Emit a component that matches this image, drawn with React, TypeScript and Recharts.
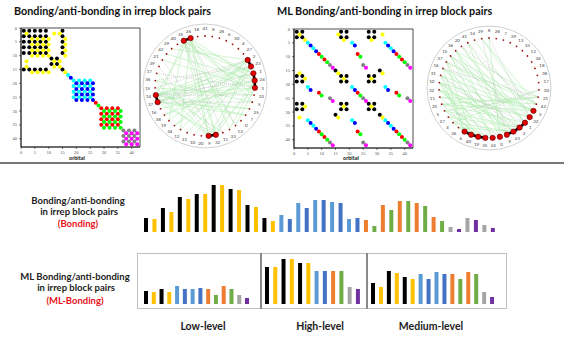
import React from 'react';
import {
  ScatterChart,
  Scatter,
  BarChart,
  Bar,
  Cell,
  XAxis,
  YAxis,
  ReferenceArea,
  ReferenceDot,
  ReferenceLine,
} from 'recharts';

// ---- palette (Excel-like) ----
const PALETTE: Record<string, string> = {
  k: '#000000',
  y: '#FFC000',
  lb: '#5B9BD5',
  b: '#4472C4',
  o: '#ED7D31',
  g: '#70AD47',
  gr: '#A5A5A5',
  p: '#7030A0',
};

// ---- matrix plots: orbitals grouped per colour; every pair inside a group is a dot ----
const axisTicks = [0, 5, 10, 15, 20, 25, 30, 35, 40];

const bondingMatrix = [
  { color: '#000000', groups: [[1, 3, 5, 7, 9, 15], [11, 13]] },
  { color: '#FFFF00', groups: [[4, 6, 8, 10, 16], [2, 12, 14]] },
  { color: '#00FFFF', groups: [[17], [19, 21, 23, 25]] },
  { color: '#0000FF', groups: [[18], [20, 22, 24, 26]] },
  { color: '#FF0000', groups: [[27], [29, 31, 33, 35]] },
  { color: '#00FF00', groups: [[28], [30, 32, 34, 36]] },
  { color: '#808080', groups: [[37, 39, 41]] },
  { color: '#FF00FF', groups: [[38, 40, 42]] },
];

const mlMatrix = [
  { color: '#000000', groups: [[1, 3, 17, 19, 27, 29], [15, 31]] },
  { color: '#FFFF00', groups: [[2, 16, 32], [4, 18, 28]] },
  { color: '#00FFFF', groups: [[5, 21, 33], [7, 35]] },
  { color: '#0000FF', groups: [[6, 22, 34], [8, 36]] },
  { color: '#FF0000', groups: [[9, 23, 37], [11, 39]] },
  { color: '#00FF00', groups: [[10, 24, 38], [12, 40]] },
  { color: '#808080', groups: [[13, 25, 41]] },
  { color: '#FF00FF', groups: [[14, 26, 42]] },
];

// ---- circular graphs: node order clockwise from the top ----
const bondOrder = [41, 8, 28, 6, 30, 4, 27, 2, 23, 1, 24, 3, 22, 5, 25, 7, 0, 13, 33, 11, 32, 9, 20, 10, 31, 12, 34, 19, 38, 16, 37, 14, 15, 36, 17, 39, 21, 42, 29, 40, 35, 26, 18];
const bondHubs = [35, 26, 2, 23, 1, 24, 3, 37, 14, 32, 9];
const bondLinks = [[35, 26], [2, 23], [1, 24], [24, 3], [37, 14], [32, 9]];
const bondChords = [[2, 37], [2, 14], [23, 37], [23, 14], [1, 14], [24, 37], [3, 14], [3, 16], [24, 38], [2, 19], [35, 32], [35, 9], [26, 9], [26, 32], [35, 3], [26, 24], [35, 1], [32, 2], [9, 23], [32, 24], [9, 3], [37, 32], [14, 9], [37, 35], [14, 26], [2, 12], [23, 10], [1, 34], [3, 21], [24, 42], [35, 22], [26, 5], [9, 36], [32, 17], [37, 7], [14, 25], [2, 29], [1, 40], [3, 13], [24, 33], [23, 31], [22, 15], [5, 36], [25, 37], [7, 14], [13, 35], [33, 26], [11, 15], [12, 26], [34, 2], [19, 35], [38, 23]];
const bondDotted = [[2, 15], [23, 36], [1, 37], [24, 14], [3, 17], [35, 11], [26, 13], [9, 39], [32, 21], [22, 14], [5, 37]];

const mlOrder = [8, 28, 7, 39, 13, 33, 12, 34, 18, 38, 17, 30, 21, 42, 3, 22, 1, 2, 23, 9, 0, 24, 35, 19, 40, 6, 26, 4, 27, 5, 25, 11, 32, 10, 31, 16, 37, 15, 36, 20, 41, 14, 29];
const mlHubs = [3, 22, 1, 2, 23, 9, 0, 24, 35, 19, 40, 6];
const mlLinks = [[1, 2], [2, 23], [23, 9], [35, 19], [19, 40], [40, 6]];
const mlChords = [[3, 16], [3, 31], [3, 10], [3, 37], [22, 32], [22, 11], [22, 15], [1, 25], [1, 36], [1, 20], [2, 5], [2, 27], [2, 16], [23, 4], [23, 26], [23, 31], [9, 10], [9, 15], [9, 41], [0, 8], [0, 36], [24, 37], [24, 32], [35, 11], [35, 5], [19, 25], [19, 27], [40, 4], [40, 10], [6, 26], [6, 31], [42, 15], [42, 37], [21, 5], [21, 25], [3, 29], [22, 14], [1, 41], [2, 20], [23, 36], [9, 16], [0, 32], [24, 15], [35, 31], [19, 10], [40, 37], [6, 16], [42, 11], [42, 29], [21, 36], [30, 4], [3, 25], [2, 32], [23, 10]];
const mlDotted = [[3, 41], [22, 8], [1, 15], [30, 27], [42, 20], [21, 16], [23, 37], [9, 29], [2, 31], [1, 10], [0, 25]];

// ---- bar rows ----
const bondingValues = [14, 13, 24, 20, 35, 33, 38, 38, 47, 47, 43, 42, 27, 25, 14, 11, 17, 13, 29, 24, 32, 32, 30, 29, 13, 14, 12, 6, 27, 22, 31, 31, 29, 26, 15, 11, 5, 3, 14, 12, 7, 4];
const bondingColors = ['k', 'y', 'k', 'y', 'k', 'y', 'k', 'y', 'k', 'y', 'k', 'y', 'k', 'y', 'k', 'y', 'lb', 'b', 'lb', 'b', 'lb', 'b', 'lb', 'b', 'lb', 'b', 'o', 'g', 'o', 'g', 'o', 'g', 'o', 'g', 'o', 'g', 'gr', 'p', 'gr', 'p', 'gr', 'p'];

const lowValues = [13, 12, 15, 12, 18, 15, 15, 16, 15, 9, 18, 15, 9, 6];
const lowColors = ['k', 'y', 'k', 'y', 'lb', 'b', 'lb', 'b', 'o', 'g', 'o', 'g', 'gr', 'p'];
const highValues = [37, 37, 45, 45, 41, 41, 33, 33, 33, 33, 17, 15];
const highColors = ['k', 'y', 'k', 'y', 'k', 'y', 'lb', 'b', 'o', 'g', 'gr', 'p'];
const mediumValues = [21, 17, 33, 31, 27, 25, 30, 25, 32, 30, 30, 25, 32, 30, 12, 7];
const mediumColors = ['k', 'y', 'k', 'y', 'k', 'y', 'lb', 'b', 'lb', 'b', 'o', 'g', 'o', 'g', 'gr', 'p'];

const FONT = 'Lato, "Open Sans", sans-serif';

function pairs(groups: number[][]) {
  const out: { x: number; y: number }[] = [];
  groups.forEach(g => g.forEach(a => g.forEach(b => out.push({ x: a, y: b }))));
  return out;
}

function Matrix({ left, top, series }: { left: number; top: number; series: { color: string; groups: number[][] }[] }) {
  const tickStyle = { fontSize: 4.5, fill: '#555' };
  return (
    <div style={{ position: 'absolute', left, top }}>
      <ScatterChart width={136} height={130} margin={{ top: 1, right: 1, bottom: 0, left: 0 }}>
        <XAxis type="number" dataKey="x" domain={[0, 43]} ticks={axisTicks} interval={0} height={10} tickSize={2}
          tick={tickStyle} axisLine={{ stroke: '#000', strokeWidth: 0.7 }} tickLine={{ stroke: '#000', strokeWidth: 0.5 }} allowDataOverflow />
        <YAxis type="number" dataKey="y" domain={[0, 43]} reversed ticks={axisTicks} interval={0} width={16} tickSize={2}
          tick={tickStyle} axisLine={{ stroke: '#000', strokeWidth: 0.7 }} tickLine={{ stroke: '#000', strokeWidth: 0.5 }} allowDataOverflow />
        <ReferenceArea x1={0} x2={43} y1={0} y2={43} fill="none" stroke="#000" strokeWidth={0.7} />
        {series.map(s => (
          <Scatter key={s.color} data={pairs(s.groups)} fill={s.color} isAnimationActive={false}
            shape={(p: any) => <circle cx={p.cx} cy={p.cy} r={2} fill={s.color} />} />
        ))}
      </ScatterChart>
    </div>
  );
}

function ChordCircle({ left, top, order, hubs, links, chords, dotted }: {
  left: number; top: number; order: number[]; hubs: number[]; links: number[][]; chords: number[][]; dotted: number[][];
}) {
  const pos = (label: number, r: number) => {
    const a = (2 * Math.PI * order.indexOf(label)) / order.length;
    return { x: r * Math.sin(a), y: r * Math.cos(a), label };
  };
  const small = order.filter(n => !hubs.includes(n)).map(n => pos(n, 1));
  const big = hubs.map(n => pos(n, 1));
  const labels = order.map(n => pos(n, 1.15));
  return (
    <div style={{ position: 'absolute', left, top }}>
      <ScatterChart width={140} height={140} margin={{ top: 0, right: 0, bottom: 0, left: 0 }}>
        <XAxis type="number" dataKey="x" domain={[-1.4, 1.4]} hide />
        <YAxis type="number" dataKey="y" domain={[-1.4, 1.4]} hide />
        <ReferenceDot x={0} y={0} r={62} fill="none" stroke="#c4c4c4" strokeWidth={0.8} />
        {chords.map(([a, b], k) => (
          <ReferenceLine key={'c' + k} segment={[pos(a, 1), pos(b, 1)]} stroke="#a6e8a6" strokeWidth={0.5} ifOverflow="visible" />
        ))}
        {dotted.map(([a, b], k) => (
          <ReferenceLine key={'d' + k} segment={[pos(a, 1), pos(b, 1)]} stroke="#aaa" strokeWidth={0.5} strokeDasharray="1 1" ifOverflow="visible" />
        ))}
        {links.map(([a, b], k) => (
          <ReferenceLine key={'l' + k} segment={[pos(a, 1), pos(b, 1)]} stroke="#000" strokeWidth={2.6} ifOverflow="visible" />
        ))}
        <Scatter data={small} isAnimationActive={false}
          shape={(p: any) => <circle cx={p.cx} cy={p.cy} r={0.9} fill="#a01010" />} />
        <Scatter data={big} isAnimationActive={false}
          shape={(p: any) => <circle cx={p.cx} cy={p.cy} r={2.7} fill="#e00000" stroke="#500" strokeWidth={0.6} />} />
        <Scatter data={labels} isAnimationActive={false}
          shape={(p: any) => (
            <text x={p.cx} y={p.cy} dy="0.35em" textAnchor="middle" fontSize={4.5} fill="#444" fontFamily={FONT}>
              {p.payload.label}
            </text>
          )} />
      </ScatterChart>
    </div>
  );
}

function BarRow({ left, top, width, values, colors }: { left: number; top: number; width: number; values: number[]; colors: string[] }) {
  const data = values.map((v, i) => ({ i, v }));
  return (
    <div style={{ position: 'absolute', left, top }}>
      <BarChart width={width} height={50} data={data} margin={{ top: 0, right: 0, bottom: 0, left: 0 }}>
        <XAxis dataKey="i" hide />
        <YAxis domain={[0, 50]} hide />
        <Bar dataKey="v" barSize={4} isAnimationActive={false}>
          {data.map((d, i) => <Cell key={i} fill={PALETTE[colors[i]]} />)}
        </Bar>
      </BarChart>
    </div>
  );
}

const text = (left: number, top: number, s: string, size: number, extra: React.CSSProperties = {}) => (
  <div style={{ position: 'absolute', left, top, fontFamily: FONT, fontSize: size, fontWeight: 700, whiteSpace: 'nowrap', lineHeight: 1, color: '#111', ...extra }}>
    {s}
  </div>
);

const centered = (cx: number, top: number, s: string, size: number, color = '#222') => (
  <div style={{ position: 'absolute', left: cx - 100, width: 200, top, textAlign: 'center', fontFamily: FONT, fontSize: size, fontWeight: 700, lineHeight: 1, color }}>
    {s}
  </div>
);

export default function App() {
  return (
    <div style={{ position: 'relative', width: 564, height: 345, background: '#fff', overflow: 'hidden' }}>
      <style>{'body{margin:0}'}</style>
      {text(14, 6, 'Bonding/anti-bonding in irrep block pairs', 10.8)}
      {text(277, 6, 'ML Bonding/anti-bonding in irrep block pairs', 10.8)}

      <Matrix left={4.7} top={27} series={bondingMatrix} />
      <Matrix left={278} top={28} series={mlMatrix} />
      {centered(77, 156, 'orbital', 5.5, '#111')}
      {centered(351, 156, 'orbital', 5.5, '#111')}

      <ChordCircle left={135} top={16} order={bondOrder} hubs={bondHubs} links={bondLinks} chords={bondChords} dotted={bondDotted} />
      <ChordCircle left={419} top={18} order={mlOrder} hubs={mlHubs} links={mlLinks} chords={mlChords} dotted={mlDotted} />

      <div style={{ position: 'absolute', left: 0, top: 162, width: 564, height: 2, background: '#777' }} />

      {centered(78, 196, 'Bonding/anti-bonding', 9.5)}
      {centered(79, 207, 'in irrep block pairs', 9.5)}
      {centered(78, 219, '(Bonding)', 9.5, '#e8141c')}

      {centered(75, 272, 'ML Bonding/anti-bonding', 9.5)}
      {centered(76, 283, 'in irrep block pairs', 9.5)}
      {centered(75, 296, '(ML-Bonding)', 9.5, '#e8141c')}

      <BarRow left={141.8} top={182} width={355.3} values={bondingValues} colors={bondingColors} />

      <div style={{ position: 'absolute', left: 137, top: 253, width: 370, height: 56, border: '1px solid #c0c0c0', boxSizing: 'border-box' }} />
      <div style={{ position: 'absolute', left: 260, top: 253, width: 1.5, height: 56, background: '#8a8a8a' }} />
      <div style={{ position: 'absolute', left: 366, top: 253, width: 1.5, height: 56, background: '#8a8a8a' }} />
      <BarRow left={142.1} top={254} width={108.8} values={lowValues} colors={lowColors} />
      <BarRow left={262.9} top={254} width={99.2} values={highValues} colors={highColors} />
      <BarRow left={369} top={254} width={127} values={mediumValues} colors={mediumColors} />

      {centered(203, 321, 'Low-level', 10.5)}
      {centered(320, 321, 'High-level', 10.5)}
      {centered(431, 321, 'Medium-level', 10.5)}
    </div>
  );
}
